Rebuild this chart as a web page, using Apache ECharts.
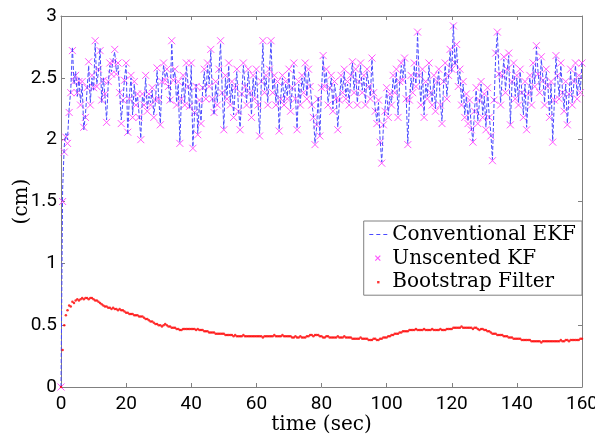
<!DOCTYPE html>
<html>
<head>
<meta charset="utf-8">
<script src="https://cdn.jsdelivr.net/npm/echarts@6/dist/echarts.min.js"></script>
<style>
  html, body { margin: 0; padding: 0; background: #fff; }
  #chart { width: 595px; height: 436px; }
</style>
</head>
<body>
<div id="chart"></div>
<script>
// sample step in seconds
const DT = 0.5;
const xTicks = [0, 20, 40, 60, 80, 100, 120, 140, 160];
const yTicks = [0, 0.5, 1, 1.5, 2, 2.5, 3];

// Conventional EKF
const ekf = [
  0,1.6,1.95,2.05,2.0,2.25,2.4,2.75,2.45,2.55,2.35,2.5,2.3,2.45,2.08,2.2,2.4,2.6,2.3,2.5,
  2.4,2.78,2.45,2.55,2.74,2.3,2.5,2.35,2.16,2.45,2.6,2.55,2.65,2.71,2.55,2.6,2.4,2.16,2.3,2.5,
  2.6,2.04,2.35,2.5,2.2,2.45,2.3,2.35,2.2,2.01,2.35,2.3,2.5,2.25,2.35,2.3,2.4,2.2,2.3,2.56,
  2.35,2.13,2.45,2.6,2.5,2.55,2.45,2.3,2.78,2.5,2.55,2.3,2.45,1.98,2.35,2.5,2.3,2.6,2.45,2.25,
  2.6,1.94,2.2,2.45,2.05,2.3,2.15,2.4,2.55,2.35,2.6,2.45,2.72,2.35,2.2,2.45,2.3,2.55,2.78,2.4,
  2.09,2.5,2.35,2.6,2.3,2.45,2.2,2.4,2.55,2.25,2.1,2.35,2.6,2.45,2.3,2.55,2.4,2.2,2.5,2.35,
  2.55,2.3,2.05,2.45,2.78,2.4,2.5,2.3,2.55,2.79,2.4,2.5,2.3,2.45,2.08,2.35,2.5,2.3,2.45,2.35,
  2.55,2.25,2.4,2.6,2.35,2.09,2.45,2.3,2.5,2.4,2.6,2.35,2.55,2.45,2.3,2.2,1.97,2.1,2.35,2.04,
  2.4,2.67,2.45,2.55,2.3,2.4,2.5,2.25,2.45,2.35,2.1,2.3,2.5,2.4,2.55,2.35,2.45,2.3,2.5,2.62,
  2.4,2.55,2.3,2.45,2.6,2.4,2.5,2.3,2.55,2.45,2.35,2.65,2.4,2.25,2.15,2.3,2.0,1.82,2.1,2.25,
  2.4,2.2,2.35,2.3,2.5,2.4,2.55,2.2,2.45,2.6,2.5,2.65,2.35,1.97,2.3,2.5,2.4,2.6,2.45,2.86,
  2.5,2.3,2.55,2.2,2.45,2.35,2.6,2.4,2.3,2.5,2.25,2.45,2.55,2.3,2.15,2.45,2.6,2.35,2.5,2.72,
  2.55,2.93,2.6,2.75,2.45,2.55,2.3,2.45,2.2,2.35,2.15,2.3,2.1,1.99,2.25,2.4,2.15,2.3,2.45,2.2,
  2.35,2.1,2.4,2.2,2.05,1.84,2.3,2.68,2.86,2.55,2.3,2.5,2.65,2.4,2.55,2.68,2.13,2.45,2.6,2.35,
  2.5,2.3,2.55,2.4,2.2,2.45,2.1,2.35,2.5,2.3,2.6,2.45,2.75,2.55,2.4,2.65,2.5,2.3,2.55,2.45,
  2.2,2.45,1.99,2.3,2.67,2.5,2.35,2.6,2.4,2.25,2.45,2.13,2.35,2.55,2.3,2.45,2.6,2.35,2.5,2.4,
  2.63
];

// Unscented KF
const ukf = [
  0,1.5,1.9,2.02,1.97,2.22,2.38,2.72,2.47,2.52,2.38,2.47,2.28,2.47,2.1,2.18,2.42,2.63,2.28,2.52,
  2.42,2.8,2.43,2.57,2.72,2.32,2.48,2.37,2.14,2.47,2.62,2.53,2.63,2.73,2.53,2.62,2.38,2.13,2.32,2.48,
  2.62,2.06,2.33,2.52,2.18,2.47,2.28,2.37,2.18,2.0,2.37,2.28,2.52,2.23,2.37,2.28,2.42,2.18,2.32,2.58,
  2.33,2.12,2.47,2.62,2.48,2.57,2.43,2.32,2.8,2.48,2.57,2.28,2.47,1.97,2.33,2.52,2.28,2.62,2.43,2.27,
  2.62,1.93,2.22,2.43,2.04,2.32,2.13,2.42,2.57,2.33,2.62,2.43,2.73,2.33,2.22,2.47,2.28,2.57,2.8,2.38,
  2.08,2.52,2.33,2.62,2.28,2.47,2.18,2.42,2.57,2.23,2.08,2.37,2.62,2.43,2.28,2.57,2.38,2.18,2.52,2.33,
  2.57,2.28,2.03,2.47,2.8,2.38,2.52,2.28,2.57,2.8,2.38,2.52,2.28,2.47,2.07,2.33,2.52,2.28,2.47,2.33,
  2.57,2.23,2.42,2.62,2.33,2.08,2.47,2.28,2.52,2.38,2.62,2.33,2.57,2.43,2.28,2.18,1.96,2.12,2.33,2.03,
  2.42,2.68,2.43,2.57,2.28,2.42,2.52,2.23,2.47,2.33,2.08,2.32,2.52,2.38,2.57,2.33,2.47,2.28,2.52,2.63,
  2.38,2.57,2.28,2.47,2.62,2.38,2.52,2.28,2.57,2.43,2.33,2.66,2.38,2.23,2.13,2.32,1.98,1.81,2.12,2.23,
  2.42,2.18,2.37,2.28,2.52,2.38,2.57,2.18,2.47,2.62,2.48,2.66,2.33,1.96,2.32,2.52,2.38,2.62,2.43,2.87,
  2.52,2.28,2.57,2.18,2.47,2.33,2.62,2.38,2.28,2.52,2.23,2.47,2.57,2.28,2.13,2.47,2.62,2.33,2.52,2.73,
  2.57,2.92,2.62,2.77,2.43,2.57,2.28,2.47,2.18,2.37,2.13,2.32,2.08,1.98,2.23,2.42,2.13,2.32,2.47,2.18,
  2.37,2.08,2.42,2.18,2.03,1.83,2.32,2.7,2.87,2.53,2.28,2.52,2.67,2.38,2.57,2.7,2.12,2.47,2.62,2.33,
  2.52,2.28,2.57,2.38,2.18,2.47,2.08,2.37,2.52,2.28,2.62,2.43,2.76,2.53,2.38,2.67,2.48,2.28,2.57,2.43,
  2.18,2.47,1.98,2.32,2.68,2.52,2.33,2.62,2.38,2.23,2.47,2.12,2.37,2.57,2.28,2.47,2.62,2.33,2.52,2.38,
  2.62
];

// Bootstrap Filter
const boot = [
  0,0.3,0.5,0.58,0.62,0.66,0.65,0.69,0.68,0.70,0.71,0.70,0.71,0.72,0.71,0.72,0.72,0.71,0.72,0.72,
  0.71,0.70,0.70,0.69,0.68,0.67,0.66,0.65,0.65,0.64,0.64,0.63,0.64,0.63,0.63,0.62,0.63,0.62,0.62,0.61,
  0.60,0.60,0.59,0.59,0.59,0.58,0.58,0.58,0.57,0.57,0.57,0.56,0.55,0.55,0.54,0.53,0.53,0.52,0.51,0.51,
  0.50,0.50,0.49,0.50,0.51,0.50,0.49,0.49,0.48,0.48,0.48,0.47,0.47,0.46,0.46,0.47,0.47,0.47,0.47,0.47,
  0.47,0.47,0.47,0.46,0.47,0.46,0.46,0.46,0.45,0.45,0.45,0.44,0.44,0.44,0.44,0.43,0.43,0.43,0.43,0.43,
  0.43,0.42,0.42,0.42,0.42,0.42,0.41,0.42,0.41,0.41,0.41,0.41,0.42,0.41,0.41,0.41,0.41,0.41,0.41,0.41,
  0.41,0.41,0.41,0.41,0.40,0.41,0.41,0.41,0.41,0.41,0.41,0.42,0.41,0.41,0.41,0.41,0.42,0.41,0.41,0.41,
  0.41,0.41,0.40,0.40,0.41,0.40,0.40,0.41,0.40,0.40,0.40,0.41,0.41,0.42,0.42,0.41,0.42,0.42,0.42,0.41,
  0.41,0.40,0.40,0.41,0.41,0.40,0.40,0.40,0.40,0.40,0.41,0.40,0.40,0.40,0.41,0.40,0.40,0.40,0.40,0.39,
  0.39,0.39,0.39,0.39,0.40,0.39,0.39,0.39,0.39,0.38,0.38,0.38,0.39,0.39,0.38,0.38,0.39,0.39,0.40,0.40,
  0.40,0.41,0.41,0.42,0.42,0.43,0.43,0.43,0.44,0.44,0.45,0.45,0.45,0.45,0.46,0.46,0.46,0.46,0.47,0.46,
  0.46,0.46,0.46,0.47,0.46,0.46,0.46,0.46,0.47,0.46,0.46,0.46,0.46,0.47,0.46,0.46,0.46,0.47,0.47,0.47,
  0.47,0.48,0.48,0.48,0.48,0.48,0.49,0.48,0.48,0.48,0.48,0.48,0.48,0.47,0.48,0.48,0.47,0.46,0.47,0.47,
  0.46,0.46,0.45,0.45,0.44,0.43,0.43,0.43,0.42,0.42,0.42,0.42,0.41,0.41,0.41,0.40,0.40,0.40,0.39,0.39,
  0.39,0.39,0.39,0.38,0.38,0.38,0.38,0.38,0.38,0.37,0.37,0.37,0.37,0.37,0.37,0.36,0.37,0.37,0.37,0.37,
  0.37,0.37,0.37,0.37,0.37,0.37,0.37,0.38,0.37,0.37,0.38,0.38,0.37,0.38,0.38,0.38,0.38,0.38,0.38,0.39,
  0.39
];

const toPairs = arr => arr.map((v, i) => [i * DT, v]);

const tickFont = "Roboto, 'Liberation Sans', sans-serif";
const textFont = "'DejaVu Serif', serif";
const axisGrey = '#808080';
const ekfColor = '#4a4aff';
const ukfColor = '#ff44ff';

// legend icons drawn in an 18x22 box (corner moves keep the box size)
const BOX = 'M0,0L0,0M18,22L18,22';
const iconDash = 'path://' + BOX + 'M0,11L4,11M7,11L11,11M14,11L18,11';
const iconCross = 'path://' + BOX + 'M6,8L11,13M11,8L6,13';
const iconDot = 'path://' + BOX + 'M7.8,9.8L10.2,9.8L10.2,12.2L7.8,12.2Z';

const chart = echarts.init(document.getElementById('chart'));

const baseAxis = {
  axisLine: { show: true, onZero: false, lineStyle: { color: axisGrey, width: 1 } },
  axisTick: { show: true, inside: true, length: 4, lineStyle: { color: axisGrey } },
  splitLine: { show: false }
};

chart.setOption({
  animation: false,
  backgroundColor: '#fff',
  grid: { left: 61, right: 13, top: 16, bottom: 49, containLabel: false, outerBoundsMode: 'none' },
  legend: {
    right: 13,
    top: 221,
    orient: 'vertical',
    backgroundColor: '#fff',
    borderColor: '#808080',
    borderWidth: 1,
    borderRadius: 0,
    padding: [2, 6, 2, 5],
    itemGap: 1,
    itemWidth: 18,
    itemHeight: 22,
    itemTextGap: 2,
    symbolKeepAspect: true,
    textStyle: { fontFamily: textFont, fontSize: 20, lineHeight: 22, color: '#000' },
    data: [
      { name: 'Conventional EKF', icon: iconDash,
        itemStyle: { color: 'transparent', borderColor: ekfColor, borderWidth: 1 } },
      { name: 'Unscented KF', icon: iconCross,
        itemStyle: { color: 'transparent', borderColor: ukfColor, borderWidth: 1.2 } },
      { name: 'Bootstrap Filter', icon: iconDot,
        itemStyle: { color: '#ff0000', borderWidth: 0 } }
    ]
  },
  xAxis: [
    Object.assign({}, baseAxis, {
      type: 'value', min: 0, max: 160, interval: 20,
      name: 'time (sec)', nameLocation: 'middle', nameGap: 28, nameMoveOverlap: false,
      nameTextStyle: { fontFamily: textFont, fontSize: 20, color: '#000' },
      axisLabel: {
        fontFamily: tickFont, fontSize: 19, color: '#000', margin: 8,
        formatter: v => xTicks.includes(v) ? String(v) : ''
      }
    }),
    Object.assign({}, baseAxis, {
      type: 'value', min: 0, max: 160, interval: 20, position: 'top',
      axisLabel: { show: false }
    })
  ],
  yAxis: [
    Object.assign({}, baseAxis, {
      type: 'value', min: 0, max: 3, interval: 0.5,
      name: '(cm)', nameLocation: 'middle', nameGap: 29, nameMoveOverlap: false,
      nameTextStyle: { fontFamily: textFont, fontSize: 20, color: '#000' },
      axisLabel: {
        fontFamily: tickFont, fontSize: 19, color: '#000', margin: 4,
        formatter: v => yTicks.includes(v) ? String(v) : ''
      }
    }),
    Object.assign({}, baseAxis, {
      type: 'value', min: 0, max: 3, interval: 0.5, position: 'right',
      axisLabel: { show: false }
    })
  ],
  series: [
    {
      name: 'Conventional EKF',
      type: 'line',
      data: toPairs(ekf),
      symbol: 'none',
      lineStyle: { color: ekfColor, width: 1, type: [4, 2] },
      itemStyle: { color: ekfColor },
      z: 3
    },
    {
      name: 'Unscented KF',
      type: 'scatter',
      data: toPairs(ukf),
      symbol: 'path://M0,0L10,10M10,0L0,10',
      symbolSize: 7,
      itemStyle: { color: 'transparent', borderColor: ukfColor, borderWidth: 1, opacity: 0.9 },
      z: 2
    },
    {
      name: 'Bootstrap Filter',
      type: 'scatter',
      data: toPairs(boot),
      symbol: 'circle',
      symbolSize: 2.5,
      itemStyle: { color: '#ff0000' },
      z: 4
    }
  ]
});
</script>
</body>
</html>
